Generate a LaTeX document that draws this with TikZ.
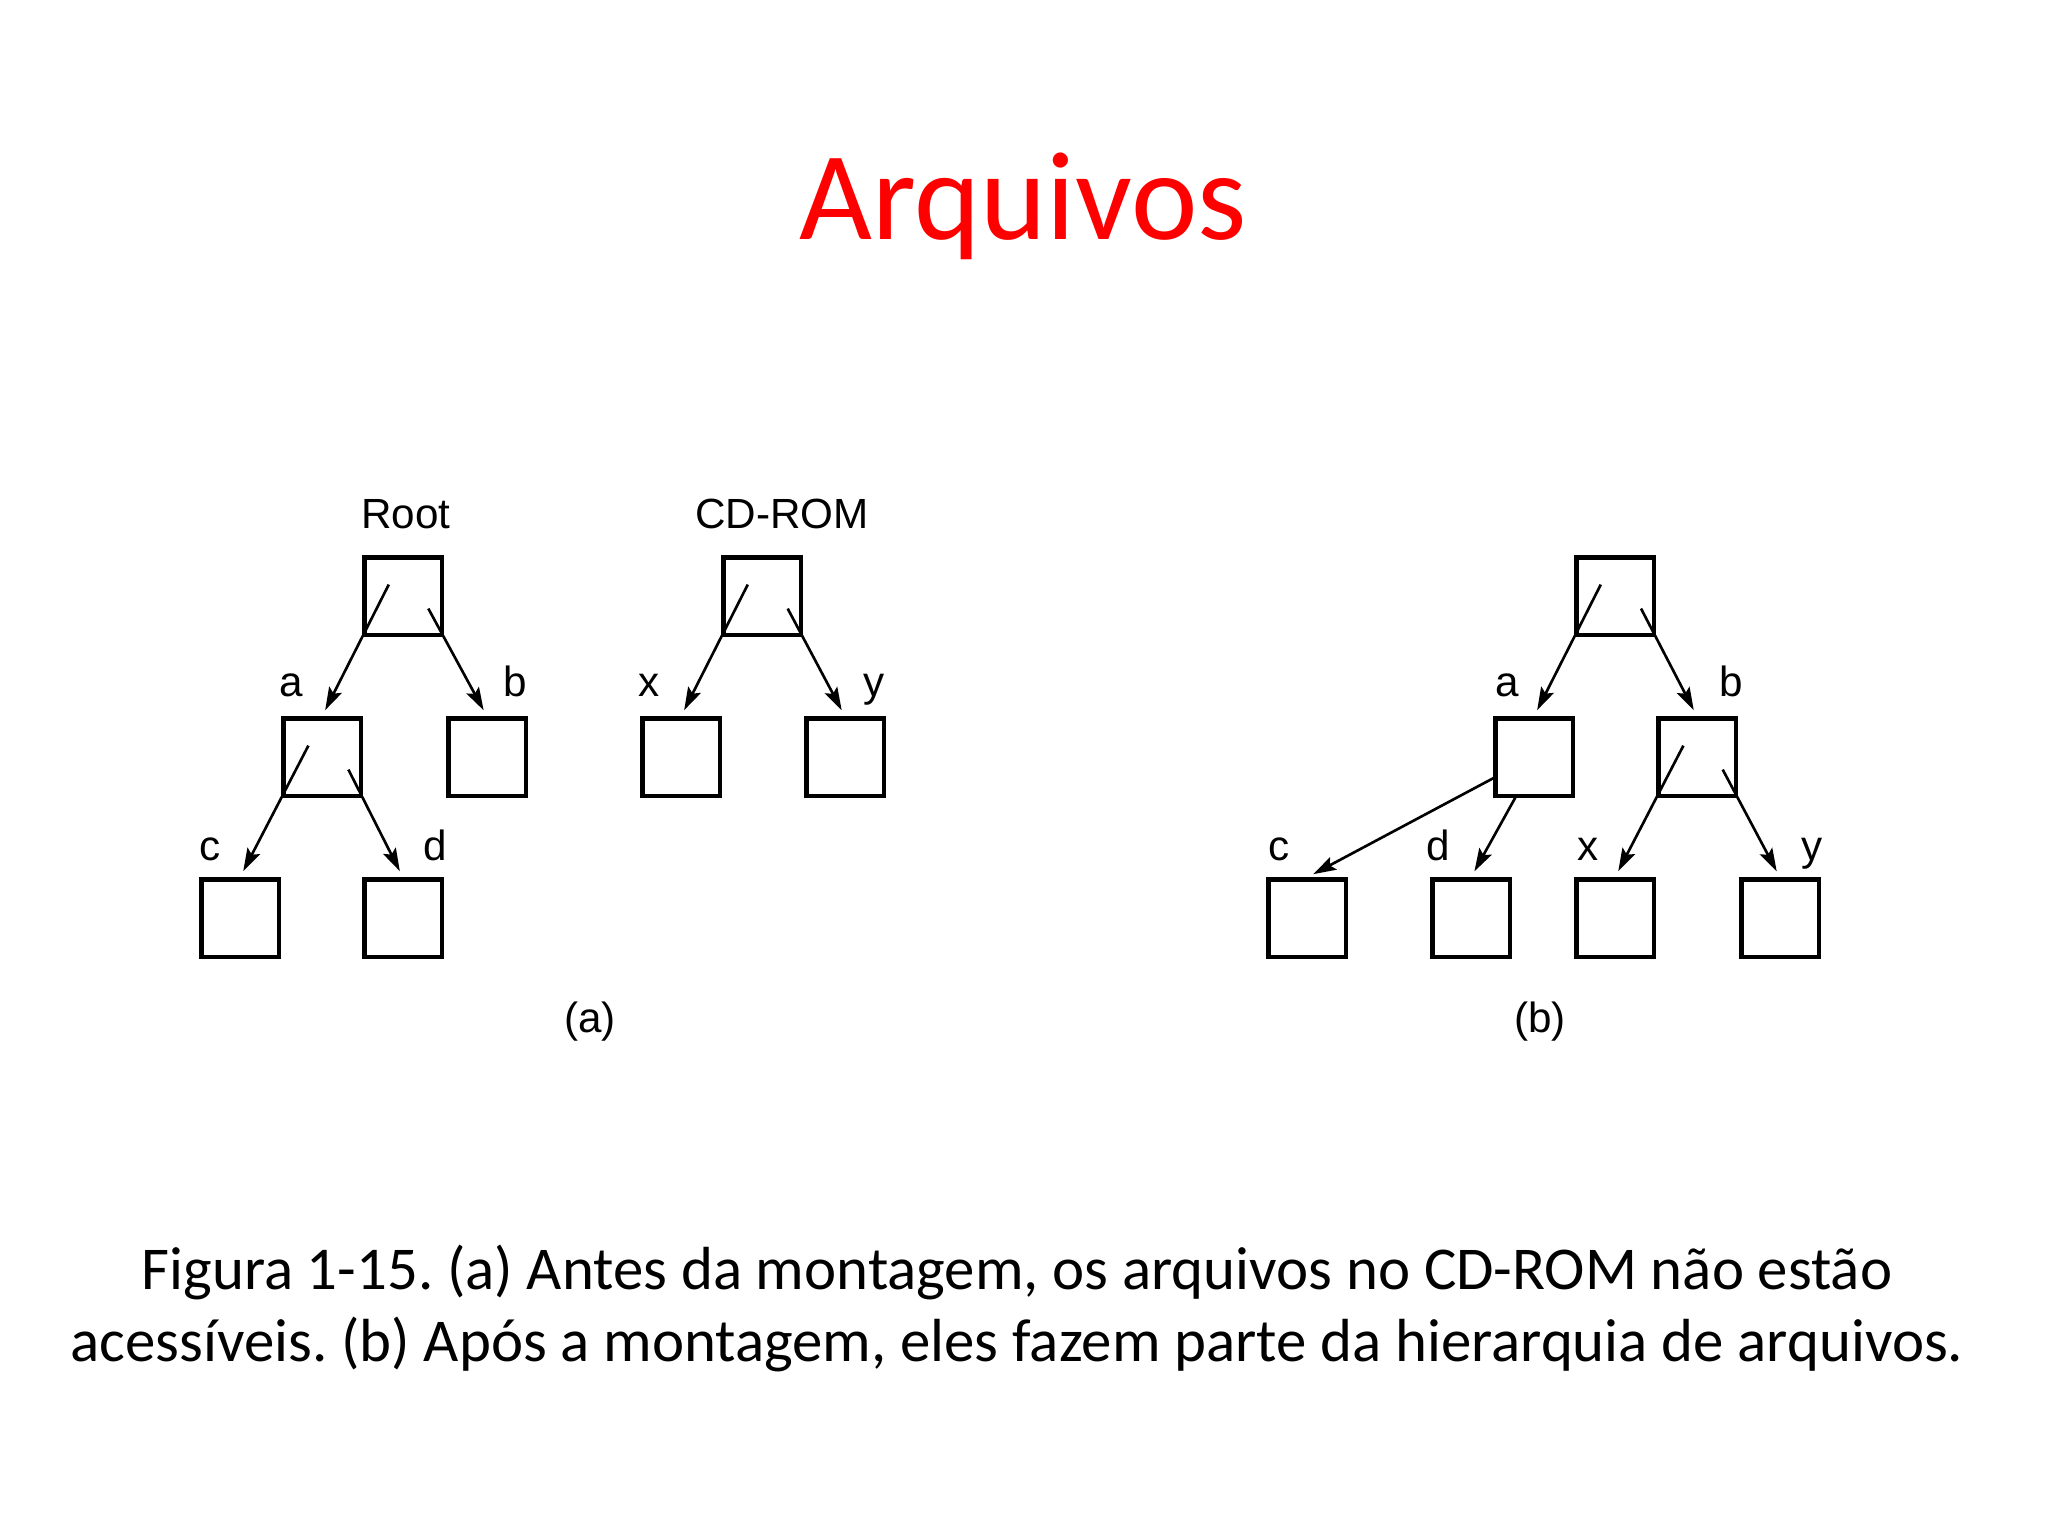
\documentclass[tikz,border=0pt]{standalone}
\usepackage{fontspec}
\usetikzlibrary{arrows.meta,calc}
\newfontfamily\slidefont{Carlito}
\newfontfamily\figfont{Liberation Sans}
\definecolor{titlered}{RGB}{255,0,0}
\frenchspacing

\begin{document}
\begin{tikzpicture}[x=0.01cm, y=-0.01cm,
  dirbox/.style={draw, line width=1.15pt, minimum size=0.77cm, inner sep=0pt},
  lbl/.style={anchor=base, inner sep=0pt, font=\figfont\fontsize{12}{14}\selectfont},
  ptr/.style={-{Stealth[length=6.5pt,width=4pt,inset=1.2pt]}, line width=0.75pt, shorten >=2pt},
  slide/.style={anchor=base, inner sep=0pt}]
  \useasboundingbox (0,0) rectangle (2048,1536);
  \fill[white] (0,0) rectangle (2048,1536);
  % slide title
  \node[slide, text=titlered, font=\slidefont\fontsize{35.8}{43}\selectfont] (title) at (1023,239) {Arquivos};
  % (a) two separate trees
  \foreach \n/\x/\y in {ar/403/596, aa/322/757, ab/487/757, ac/240/918, ad/403/918,
                        cd/762/596, ax/681/757, ay/845/757}
    \node[dirbox] (\n) at (\x,\y) {};
  % (b) CD-ROM mounted on b
  \foreach \n/\x/\y in {br/1615/596, ba/1534/757, bb/1697/757, bc/1307/918,
                        bd/1471/918, bx/1615/918, by/1780/918}
    \node[dirbox] (\n) at (\x,\y) {};
  % names
  \foreach \n/\t/\x/\y in {lroot/Root/406/528, lcd/CD-ROM/782/528,
                           la/a/291/696, lb/b/515/696, lx/x/649/696, ly/y/874/696,
                           lc/c/210/860, ld/d/435/860, lpa/(a)/590/1032,
                           ma/a/1507/696, mb/b/1731/696, mc/c/1279/860, md/d/1438/860,
                           mx/x/1588/860, my/y/1812/860, lpb/(b)/1540/1032}
    \node[lbl] (\n) at (\x,\y) {\t};
  % pointers starting inside the parent box
  \foreach \p/\c in {ar/aa, aa/ac, cd/ax, br/ba, bb/bx}
    \draw[ptr] ($(\p.south west)!-0.65!(\c.north)$) -- (\c.north);
  \foreach \p/\c in {ar/ab, aa/ad, cd/ay, br/bb, bb/by}
    \draw[ptr] ($(\p.south east)!-0.35!(\c.north)$) -- (\c.north);
  \draw[ptr] ($(ba.north west)!0.76!(ba.south west)$) -- (bc.north);
  \draw[ptr] ($(ba.south west)!0.27!(ba.south east)$) -- (bd.north);
  % caption
  \node[slide, font=\slidefont\fontsize{17.3}{20.8}\selectfont] (cap1) at (1017,1289)
    {Figura 1-15. (a) Antes da montagem, os arquivos no CD-ROM não estão};
  \node[slide, font=\slidefont\fontsize{17.3}{20.8}\selectfont] (cap2) at (1017,1361)
    {acessíveis. (b) Após a montagem, eles fazem parte da hierarquia de arquivos.};
\end{tikzpicture}
\end{document}
